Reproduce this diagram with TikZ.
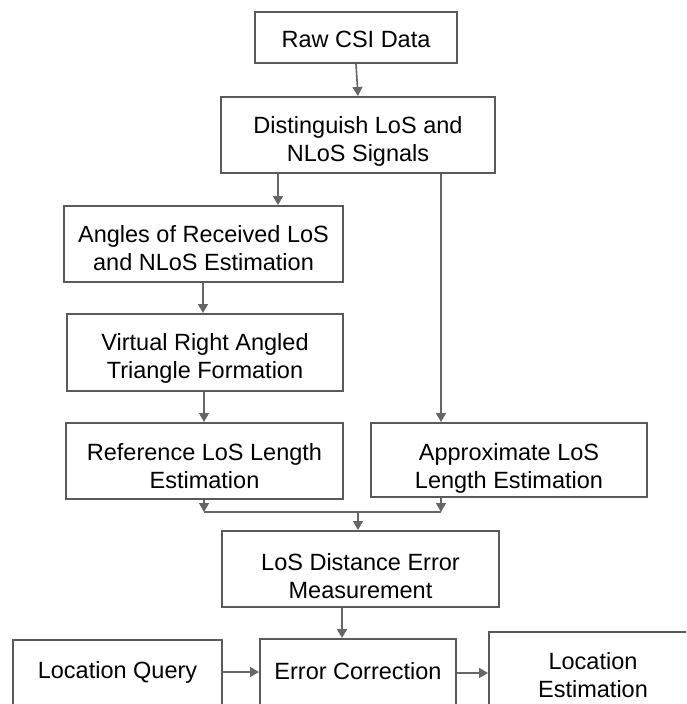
\documentclass[tikz,border=0pt]{standalone}
\usepackage{fontspec}
\setmainfont{Liberation Sans}
\usetikzlibrary{arrows.meta}
\definecolor{boxline}{HTML}{5A5A5A}
\definecolor{arrline}{HTML}{666666}
% #1: how far the text block is moved down from the box centre
\newcommand\tx[2][7pt]{\raisebox{\dimexpr-#1-5.875pt\relax}[0pt][0pt]{\begin{tabular}{@{}c@{}}#2\end{tabular}}}
\tikzset{
  stepbox/.style={draw=boxline, line width=2pt, fill=white, inner sep=0pt,
    font=\fontsize{23.5}{28}\selectfont, text=black},
  flow/.style={draw=arrline, line width=1.6pt, -{Triangle[length=9pt,width=10pt]}},
  plain/.style={draw=arrline, line width=1.6pt}
}
\begin{document}
\begin{tikzpicture}[x=1pt,y=-1pt]
\useasboundingbox (0,0) rectangle (686,704);
\clip (0,0) rectangle (686,704);
\fill[white] (0,0) rectangle (686,704);

\node[stepbox, minimum width=202pt, minimum height=51pt] (raw) at (356,37.5) {\tx[5pt]{Raw CSI Data}};
\node[stepbox, minimum width=274pt, minimum height=76pt] (dist) at (358,135) {\tx[7pt]{Distinguish LoS and\\NLoS Signals}};
\node[stepbox, minimum width=279pt, minimum height=76pt] (ang) at (203.5,244) {\tx[7.5pt]{Angles of Received LoS\\and NLoS Estimation}};
\node[stepbox, minimum width=276pt, minimum height=77pt] (vir) at (205,352.5) {\tx[7pt]{Virtual Right Angled\\Triangle Formation}};
\node[stepbox, minimum width=277pt, minimum height=76pt] (ref) at (204.5,461) {\tx[8pt]{Reference LoS Length\\Estimation}};
\node[stepbox, minimum width=276pt, minimum height=74pt] (app) at (509,460) {\tx[9pt]{Approximate LoS\\Length Estimation}};
\node[stepbox, minimum width=277pt, minimum height=76pt] (los) at (360.5,569) {\tx[10pt]{LoS Distance Error\\Measurement}};
\node[stepbox, minimum width=209pt, minimum height=80pt] (lq) at (117.5,680) {\tx[-7pt]{Location Query}};
\node[stepbox, minimum width=196pt, minimum height=81pt] (ec) at (358,679.5) {\tx[-5pt]{Error Correction}};
\node[stepbox, minimum width=208pt, minimum height=88pt] (le) at (593,676) {\tx[2pt]{Location\\Estimation}};

\coordinate (mL) at (204,512);
\coordinate (mR) at (441,512);
\coordinate (mC) at (358,512);

\draw[flow] (raw.south) -- (dist.north);
\draw[flow] (278,135 |- dist.south) -- (278,135 |- ang.north);
\draw[flow] (441,135 |- dist.south) -- (441,135 |- app.north);
\draw[flow] (203,0 |- ang.south) -- (203,0 |- vir.north);
\draw[flow] (204,0 |- vir.south) -- (204,0 |- ref.north);
\draw[flow] (204,0 |- ref.south) -- (mL);
\draw[flow] (441,0 |- app.south) -- (mR);
\draw[plain] (mL) -- (mR);
\draw[flow] (mC) -- (mC |- los.north);
\draw[flow] (342,0 |- los.south) -- (342,0 |- ec.north);
\draw[flow] (lq.east |- 0,672) -- (ec.west |- 0,672);
\draw[flow] (ec.east |- 0,673) -- (le.west |- 0,673);
\end{tikzpicture}
\end{document}
